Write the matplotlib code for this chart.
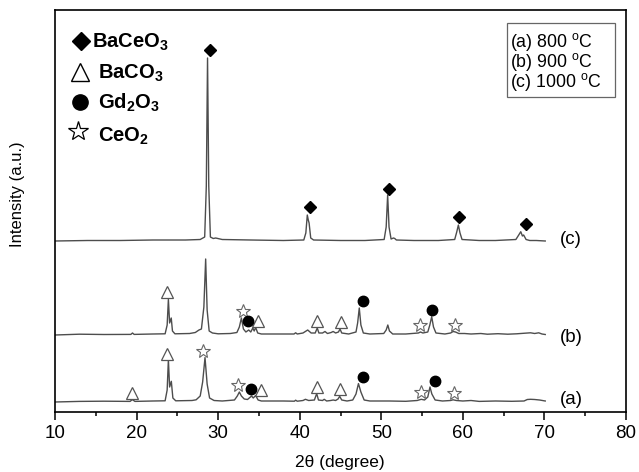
import numpy as np
import matplotlib
matplotlib.use("Agg")
import matplotlib.pyplot as plt
from matplotlib.patches import Rectangle

plt.rcParams["font.family"] = ["Liberation Sans", "DejaVu Sans"]
plt.rcParams["mathtext.fontset"] = "custom"
plt.rcParams["mathtext.rm"] = "Liberation Sans"
plt.rcParams["mathtext.bf"] = "Liberation Sans:bold"
plt.rcParams["mathtext.it"] = "Liberation Sans:italic"

# XRD patterns (2theta in degree, intensity in a.u. above each baseline)
pattern_a = [(10, 0), (13, 0.6), (16, 0.8), (19.2, 0.6), (19.48, 2.4), (19.8, 0.6), (22, 1),
             (23.5, 1.2), (23.75, 12), (23.9, 42.4), (24.05, 15), (24.26, 20.7), (24.45, 4),
             (24.8, 1.2), (26.8, 1.5), (27.3, 2.2), (27.8, 6), (28.1, 20), (28.39, 44.4),
             (28.65, 18), (28.95, 4), (29.5, 1.5), (30.5, 1), (32, 2), (32.35, 6), (32.6, 10),
             (32.85, 6), (33.2, 3), (33.6, 2.5), (34.1, 6), (34.3, 4), (34.6, 6.5), (34.9, 2),
             (35.3, 1), (38, 1), (39.35, 0.8), (39.5, 1.8), (39.7, 0.8), (40.4, 1.5), (40.7, 2.7),
             (41.1, 1.5), (41.8, 2), (42.08, 8.4), (42.3, 2), (42.8, 1.5), (43.0, 2.7), (43.3, 1),
             (43.8, 1.5), (44.1, 2), (44.4, 1.5), (44.7, 3), (44.9, 5.7), (45.15, 2), (45.8, 1),
             (46.5, 2), (46.9, 8), (47.2, 18.4), (47.5, 10), (47.9, 2), (48.6, 1), (51, 1),
             (53, 0.7), (54.4, 1.5), (54.9, 2.7), (55.3, 2), (55.7, 5), (55.97, 15), (56.2, 8),
             (56.6, 2), (57.5, 1), (58.5, 1.5), (58.8, 2.2), (59.2, 1.5), (60, 1), (61, 1.5),
             (62, 0.6), (64, 1), (66, 0.7), (67.5, 1), (67.9, 2.5), (68.3, 2.7), (68.8, 2.5),
             (69.4, 2), (70.1, 1)]

pattern_b = [(10, 0), (13, 0.8), (16, 0.5), (19.3, 0.6), (19.5, 2), (19.7, 0.6), (22, 1),
             (23.5, 1.2), (23.75, 10), (23.9, 35.7), (24.05, 12), (24.25, 17), (24.4, 4),
             (24.7, 1.2), (26.5, 1.5), (27.2, 2.5), (27.65, 5), (27.95, 6), (28.25, 28),
             (28.47, 76), (28.65, 25), (28.9, 4), (29.3, 2), (30, 1.2), (31.5, 1.5), (32.3, 2.5),
             (32.6, 8), (32.85, 17), (33.1, 6), (33.4, 3), (33.75, 5), (34.0, 3), (34.25, 7),
             (34.42, 4), (34.6, 7.5), (34.85, 2), (35.3, 1), (37, 1), (39.3, 1), (39.5, 2.2),
             (39.7, 1), (40.4, 2), (40.98, 5), (41.4, 2), (41.9, 2), (42.15, 7), (42.35, 2),
             (42.8, 2), (43.1, 3.5), (43.4, 1.5), (43.85, 2.5), (44.1, 3.5), (44.4, 2), (44.75, 3),
             (44.94, 6), (45.15, 2), (46, 1), (46.9, 3), (47.1, 12), (47.3, 27), (47.5, 10),
             (47.8, 2), (48.6, 1), (50.3, 1.5), (50.6, 5), (50.8, 10), (51.0, 4), (51.4, 1),
             (53, 1), (54.55, 2), (54.8, 3), (55.1, 2), (55.7, 3), (55.95, 10), (56.18, 18.3),
             (56.4, 8), (56.7, 2), (57.8, 1), (58.5, 2), (58.8, 3.5), (59.1, 3), (59.5, 1.5),
             (60.2, 1.5), (61, 1), (62.2, 1.5), (63, 0.8), (64.3, 1.3), (65.5, 0.8), (66.6, 1.2),
             (67.6, 1.8), (68.3, 2.2), (68.8, 1.5), (69.3, 2.2), (69.7, 1), (70.1, 0.5)]

pattern_c = [(10, 0), (14, 0.5), (18, 0.5), (22, 1), (26, 1), (27.8, 1.5), (28.35, 4),
             (28.55, 55), (28.7, 183), (28.85, 55), (29.05, 4), (29.4, 2.5), (29.7, 3),
             (30.5, 1.5), (34, 1), (38, 0.5), (40.5, 1), (40.75, 8), (40.93, 26), (41.05, 21),
             (41.15, 18), (41.35, 3), (41.7, 1), (45, 0.5), (48, 0.5), (50.35, 1.5), (50.6, 14),
             (50.78, 46), (50.95, 14), (51.2, 2), (51.5, 3), (51.65, 2.5), (51.85, 1), (54, 0.5),
             (57, 0.5), (59.0, 1.5), (59.25, 9), (59.45, 16), (59.65, 8), (59.9, 1.5), (62, 0.5),
             (64, 0.5), (66.5, 1.5), (66.85, 6), (67.1, 9.3), (67.3, 5), (67.45, 6), (67.75, 1.5),
             (68.2, 0.5), (69, 0.5), (70.1, 0)]

# phase markers: 2theta of the indexed reflections in each pattern
baceo3_c = [29.0, 41.26, 50.99, 59.57, 67.7]
baco3_b = [23.7, 34.9, 42.16, 45.0]
ceo2_b = [33.0, 54.75, 59.08]
gd2o3_b = [33.7, 47.7, 56.26]
baco3_a = [19.5, 23.77, 35.3, 42.1, 44.9]
ceo2_a = [28.2, 32.4, 54.87, 58.9]
gd2o3_a = [34.03, 47.8, 56.59]

sample_labels = ["(a)", "(b)", "(c)"]
temperature_labels = [r"(a) 800 $^{\mathrm{o}}$C", r"(b) 900 $^{\mathrm{o}}$C",
                      r"(c) 1000 $^{\mathrm{o}}$C"]
phase_labels = [r"$\mathbf{BaCeO_3}$", r"$\mathbf{BaCO_3}$", r"$\mathbf{Gd_2O_3}$", r"$\mathbf{CeO_2}$"]

# vertical stacking of the patterns
offsets = [10, 77, 171]
line_color = "#4d4d4d"

fig = plt.figure(figsize=(6.39, 4.72), dpi=100)
ax = fig.add_axes([55 / 639, 1 - 412 / 472, 571 / 639, 402 / 472])

curves = []
for pts, off in zip([pattern_a, pattern_b, pattern_c], offsets):
    tt, inten = map(np.array, zip(*pts))
    y = inten + off
    ax.plot(tt, y, color=line_color, lw=1.0, zorder=2)
    curves.append((tt, y))


def marker_heights(curve, positions, gap):
    tt, y = curve
    out = []
    for p in positions:
        grid = np.linspace(p - 0.6, p + 0.6, 61)
        out.append(np.interp(grid, tt, y).max() + gap)
    return out


def put_markers(curve, positions, style):
    ys = marker_heights(curve, positions, style.pop("gap"))
    ax.plot(positions, ys, ls="none", zorder=3, **style)


diamond = dict(marker="D", ms=6.5, mfc="black", mec="black", gap=8)
triangle = dict(marker="^", ms=8, mfc="white", mec="#555555", mew=0.9, gap=7)
star = dict(marker="*", ms=10, mfc="white", mec="#666666", mew=0.8, gap=7)
circle = dict(marker="o", ms=7.5, mfc="black", mec="black", gap=7)

put_markers(curves[2], baceo3_c, dict(diamond))
put_markers(curves[1], baco3_b, dict(triangle))
put_markers(curves[1], ceo2_b, dict(star))
put_markers(curves[1], gd2o3_b, dict(circle))
put_markers(curves[0], baco3_a, dict(triangle))
put_markers(curves[0], ceo2_a, dict(star))
put_markers(curves[0], gd2o3_a, dict(circle))

# sample labels at the right end of each pattern
for lab, off in zip(sample_labels, [12, 74, 172]):
    ax.text(71.9, off, lab, fontsize=13.5, va="center", ha="left")

ax.set_xlim(10, 80)
ax.set_ylim(0, 402)
ax.set_xticks(np.arange(10, 81, 10))
ax.set_xticks(np.arange(15, 80, 10), minor=True)
ax.set_yticks([])
ax.tick_params(axis="x", which="major", direction="out", length=6, width=1.1,
               labelsize=13.5, pad=3)
ax.tick_params(axis="x", which="minor", direction="out", length=3, width=1.1)
for sp in ax.spines.values():
    sp.set_linewidth(1.2)

fig.text(340 / 639, 1 - 462 / 472, "2θ (degree)", ha="center", va="center", fontsize=12.5)
fig.text(18 / 639, 1 - 194 / 472, "Intensity (a.u.)", rotation=90,
         ha="center", va="center", fontsize=12)

# phase key (upper left)
key_marks = [dict(marker="D", ms=9.5, mfc="black", mec="black"),
             dict(marker="^", ms=13, mfc="white", mec="black", mew=1.0),
             dict(marker="o", ms=11, mfc="black", mec="black"),
             dict(marker="*", ms=15, mfc="white", mec="black", mew=0.9)]
key_mark_pos = [(0.0455, 0.924), (0.0438, 0.8465), (0.0438, 0.772), (0.040, 0.698)]
key_text_pos = [(0.0643, 0.905), (0.0758, 0.830), (0.0758, 0.755), (0.0758, 0.6724)]
for style, (mx, my), (tx, ty), lab in zip(key_marks, key_mark_pos, key_text_pos, phase_labels):
    ax.plot([mx], [my], transform=ax.transAxes, ls="none", clip_on=False, **style)
    ax.text(tx, ty, lab, transform=ax.transAxes, fontsize=14.5, va="baseline", ha="left")

# temperature key (upper right)
ax.add_patch(Rectangle((0.791, 0.784), 0.19, 0.184, transform=ax.transAxes,
                       fill=False, ec="#666666", lw=0.9))
for lab, ty in zip(temperature_labels, [0.909, 0.859, 0.809]):
    ax.text(0.796, ty, lab, transform=ax.transAxes, fontsize=12.8, va="baseline", ha="left")

fig.savefig("out.png", dpi=100)
